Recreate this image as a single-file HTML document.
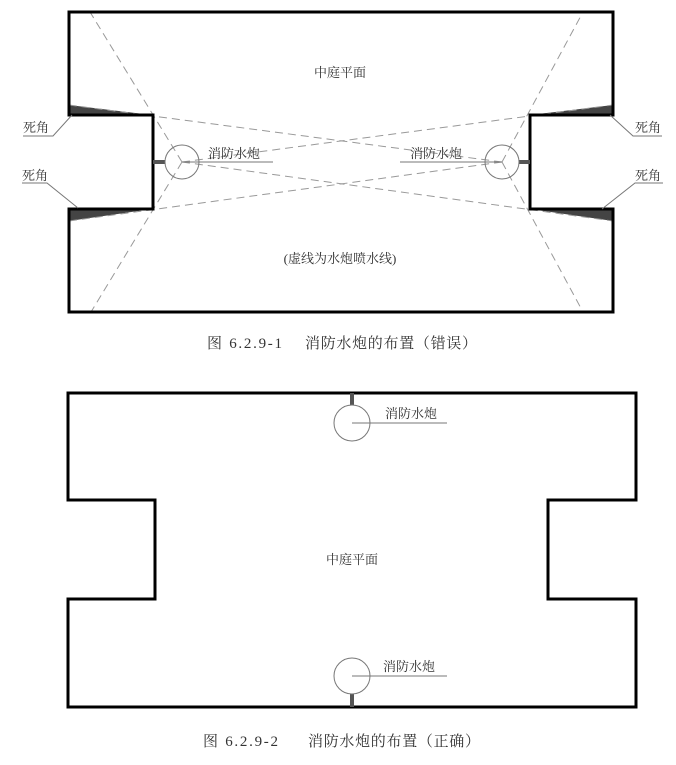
<!DOCTYPE html>
<html><head><meta charset="utf-8"><style>
html,body{margin:0;padding:0;background:#fff;}
svg text{font-family:"Liberation Serif","Noto Serif CJK SC",serif;fill:#333;}
</style></head><body>
<svg width="676" height="760" viewBox="0 0 676 760" xmlns="http://www.w3.org/2000/svg">
<!-- TOP DIAGRAM -->
<g fill="#444" stroke="none">
<polygon points="69,105 69,115 152,115"/>
<polygon points="69,209 69,221 152,209"/>
<polygon points="613,105 613,115 530,115"/>
<polygon points="613,209 613,221 530,209"/>
</g>
<g stroke="#999" stroke-width="1" stroke-dasharray="8,5" fill="none">
<line x1="182" y1="162" x2="90" y2="12"/>
<line x1="182" y1="162" x2="91" y2="312"/>
<line x1="182" y1="162" x2="613" y2="105"/>
<line x1="182" y1="162" x2="613" y2="221"/>
<line x1="502" y1="162" x2="583" y2="12"/>
<line x1="502" y1="162" x2="583" y2="312"/>
<line x1="502" y1="162" x2="69" y2="105"/>
<line x1="502" y1="162" x2="69" y2="221"/>
</g>
<path d="M69,12 H613 V115 H530 V209 H613 V312 H69 V209 H153 V115 H69 Z" fill="none" stroke="#000" stroke-width="3"/>
<line x1="153" y1="162" x2="165" y2="162" stroke="#555" stroke-width="4"/>
<line x1="519" y1="162" x2="530" y2="162" stroke="#555" stroke-width="4"/>
<circle cx="182" cy="162" r="17" fill="none" stroke="#777" stroke-width="1"/>
<circle cx="502" cy="162" r="17" fill="none" stroke="#777" stroke-width="1"/>
<g stroke="#777" stroke-width="1">
<line x1="182" y1="162" x2="273" y2="162"/>
<line x1="400" y1="162" x2="502" y2="162"/>
<polyline points="23,136 53,136 72,115" fill="none"/>
<polyline points="22,183 47,183 78,208" fill="none"/>
<polyline points="662,136 633,136 610,115" fill="none"/>
<polyline points="663,183 635,183 602,209" fill="none"/>
</g>
<g font-size="13">
<text x="340" y="77" text-anchor="middle">中庭平面</text>
<text x="208" y="158">消防水炮</text>
<text x="410" y="158">消防水炮</text>
<text x="23" y="132">死角</text>
<text x="22" y="180">死角</text>
<text x="635" y="132">死角</text>
<text x="635" y="180">死角</text>
<text x="340" y="263" text-anchor="middle">(虚线为水炮喷水线)</text>
</g>
<g font-size="15">
<text x="207" y="348" textLength="75" lengthAdjust="spacing">图 6.2.9-1</text>
<text x="305" y="348" textLength="172" lengthAdjust="spacing">消防水炮的布置（错误）</text>
</g>
<!-- BOTTOM DIAGRAM -->
<path d="M68,393 H636 V500 H548 V599 H636 V707 H68 V599 H155 V500 H68 Z" fill="none" stroke="#000" stroke-width="3"/>
<line x1="352" y1="393" x2="352" y2="405" stroke="#555" stroke-width="4"/>
<line x1="352" y1="694" x2="352" y2="707" stroke="#555" stroke-width="4"/>
<circle cx="352" cy="423" r="18" fill="none" stroke="#777" stroke-width="1"/>
<circle cx="352" cy="676" r="18" fill="none" stroke="#777" stroke-width="1"/>
<g stroke="#777" stroke-width="1">
<line x1="352" y1="423" x2="447" y2="423"/>
<line x1="352" y1="676" x2="447" y2="676"/>
</g>
<g font-size="13">
<text x="385" y="418">消防水炮</text>
<text x="383" y="671">消防水炮</text>
<text x="352" y="564" text-anchor="middle">中庭平面</text>
</g>
<g font-size="15">
<text x="203" y="746" textLength="75" lengthAdjust="spacing">图 6.2.9-2</text>
<text x="308" y="746" textLength="172" lengthAdjust="spacing">消防水炮的布置（正确）</text>
</g>
</svg>
</body></html>
